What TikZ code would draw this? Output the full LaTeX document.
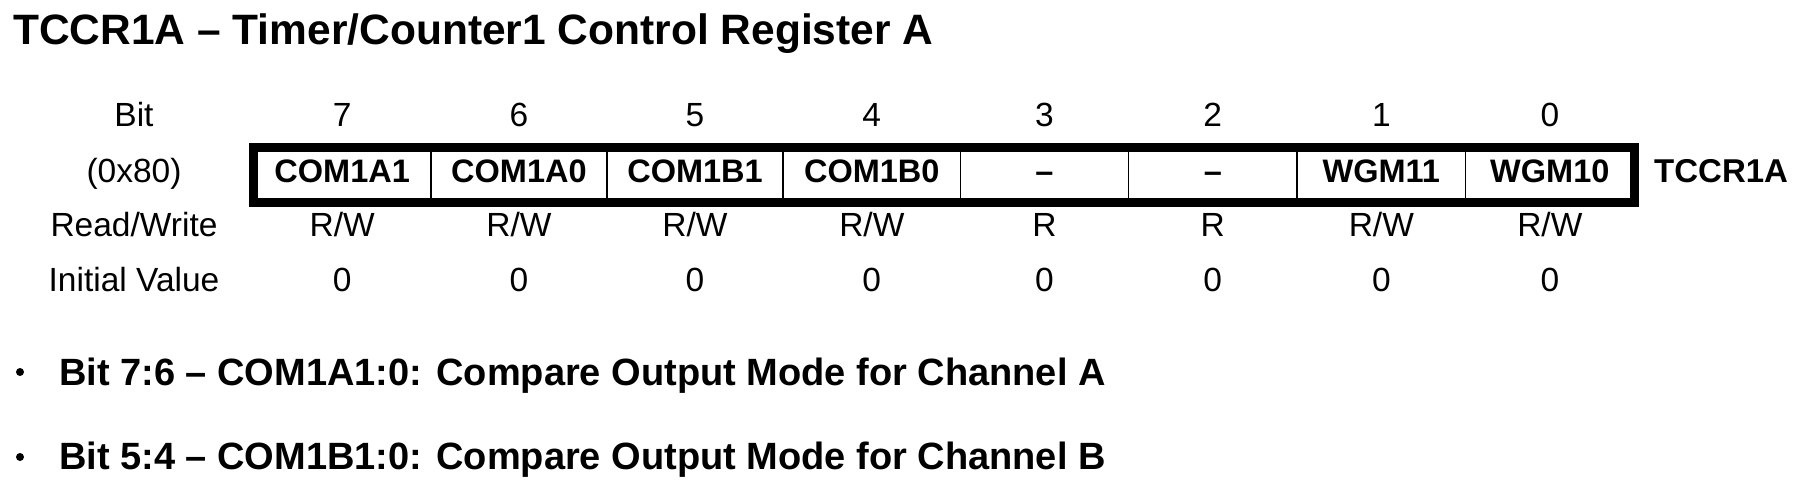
\documentclass[tikz,border=0pt]{standalone}
\usepackage{fontspec}
\setmainfont{Liberation Sans}
\begin{document}
\begin{tikzpicture}[x=1pt,y=-1pt,
  lbl/.style={inner sep=0pt,anchor=base,font=\fontsize{33.5}{40}\selectfont},
  cell/.style={inner sep=0pt,anchor=base,font=\bfseries\fontsize{32.5}{38}\selectfont},
  regname/.style={inner sep=0pt,anchor=base west,font=\bfseries\fontsize{33}{40}\selectfont},
  title/.style={inner sep=0pt,anchor=base west,font=\bfseries\fontsize{42.5}{50}\selectfont},
  head/.style={inner sep=0pt,anchor=base west,font=\bfseries\fontsize{38}{44}\selectfont},
  border/.style={line width=9pt},
  divider/.style={line width=1.5pt},
  dot/.style={circle,fill=black,inner sep=0pt,minimum size=8pt}]
\useasboundingbox (0,0) rectangle (1810,486);
\fill[white] (0,0) rectangle (1810,486);

% title
\node[title] (title) at (13,45) {TCCR1A -- Timer/Counter1 Control Register A};

% row labels
\node[lbl] (lbit)  at (134,127) {Bit};
\node[lbl] (laddr) at (134,183) {(0x80)};
\node[lbl] (lrw)   at (134,237) {Read/Write};
\node[lbl] (liv)   at (134,292) {Initial Value};

% register frame corners and dividers
\coordinate (tl) at (253.5,147.5);
\coordinate (br) at (1634,202.5);
\foreach \i/\x in {1/430.8,2/607,3/783,4/960.5,5/1128.5,6/1297,7/1465.6}{
  \coordinate (dt\i) at (\x,143);
  \coordinate (db\i) at (\x,207);
  \draw[divider] (dt\i) -- (db\i);
}
\draw[border] (tl) rectangle (br);

% cells
\foreach \b/\x/\t/\r in {7/342.2/COM1A1/{R/W},6/518.9/COM1A0/{R/W},5/695/COM1B1/{R/W},4/871.8/COM1B0/{R/W},3/1044.5/--/R,2/1212.8/--/R,1/1381.3/WGM11/{R/W},0/1549.8/WGM10/{R/W}}{
  \node[lbl]  (bit\b)  at (\x,127) {\b};
  \node[cell] (cell\b) at (\x,183) {\t};
  \node[lbl]  (rw\b)   at (\x,237) {\r};
  \node[lbl]  (iv\b)   at (\x,292) {0};
}

\node[regname] (reg) at (1654,183) {TCCR1A};

% bullets
\node[dot] (dot1) at (20,372) {};
\node[dot] (dot2) at (20,457) {};
\node[head] (h1) at (59,385) {Bit 7:6 -- COM1A1:0: Compare Output Mode for Channel A};
\node[head] (h2) at (59,469) {Bit 5:4 -- COM1B1:0: Compare Output Mode for Channel B};
\end{tikzpicture}
\end{document}
